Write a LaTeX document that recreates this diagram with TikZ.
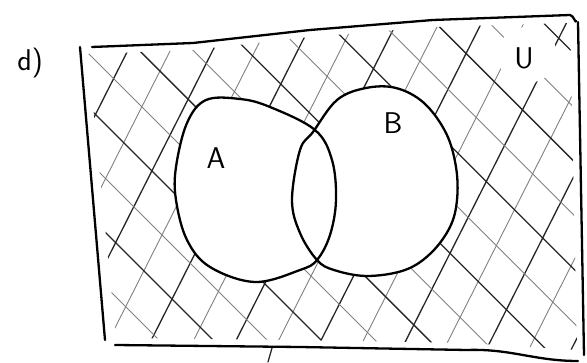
\documentclass[tikz,border=0pt]{standalone}
\begin{document}
\begin{tikzpicture}[x=1pt,y=-1pt,
  outline/.style={line width=2.3pt,line join=round,line cap=round},
  hatchdark/.style={line width=1.3pt,black!85,line cap=round},
  hatchlight/.style={line width=0.9pt,black!50,line cap=round},
  lbl/.style={font=\sffamily\fontsize{30}{30}\selectfont,inner sep=0pt}]
\useasboundingbox (0,0) rectangle (587,363);
% hatching, clipped to the universe
\begin{scope}
  \clip (88,54) -- (193,50) -- (310,37) -- (433,27) -- (570,23) -- (577,350) -- (467,343) -- (300,340) -- (116,338) -- cycle;
  \foreach \t in {-320,-244,...,340}
    \draw[hatchdark] ({330+\t*0.88-400*0.45},{190+\t*0.47+400*0.89}) -- ({330+\t*0.88+400*0.45},{190+\t*0.47-400*0.89});
  \foreach \t in {-282,-206,...,340}
    \draw[hatchlight] ({330+\t*0.88-400*0.45},{190+\t*0.47+400*0.89}) -- ({330+\t*0.88+400*0.45},{190+\t*0.47-400*0.89});
  \foreach \t in {-340,-264,...,340}
    \draw[hatchdark] ({330+\t*0.71-400*0.71},{190-\t*0.71-400*0.71}) -- ({330+\t*0.71+400*0.71},{190-\t*0.71+400*0.71});
  \foreach \t in {-302,-226,...,340}
    \draw[hatchlight] ({330+\t*0.71-400*0.71},{190-\t*0.71-400*0.71}) -- ({330+\t*0.71+400*0.71},{190-\t*0.71+400*0.71});
  \fill[white] (527,55) ellipse (30 and 28);
\end{scope}
% sets
\fill[white] plot[smooth cycle,tension=0.6] coordinates {(206,100) (240,99) (270,107) (315,130) (332,160) (336,200) (330,235) (317,260) (300,270) (255,282) (210,267) (187,240) (176,200) (176,167) (187,123)};
\fill[white] plot[smooth cycle,tension=0.6] coordinates {(292,200) (300,150) (313,132) (337,100) (366,88) (396,88) (424,103) (446,133) (456,167) (457,200) (450,227) (431,253) (405,270) (367,276) (334,270) (317,260) (300,233)};
\draw[outline] plot[smooth cycle,tension=0.6] coordinates {(206,100) (240,99) (270,107) (315,130) (332,160) (336,200) (330,235) (317,260) (300,270) (255,282) (210,267) (187,240) (176,200) (176,167) (187,123)};
\draw[outline] plot[smooth cycle,tension=0.6] coordinates {(292,200) (300,150) (313,132) (337,100) (366,88) (396,88) (424,103) (446,133) (456,167) (457,200) (450,227) (431,253) (405,270) (367,276) (334,270) (317,260) (300,233)};
% universe
\draw[outline] (80,47) -- (105,340);
\draw[outline] (92,47) -- (193,43) -- (310,30) -- (433,20) -- (570,15) to[out=0,in=-90] (576,21);
\draw[outline] (578,22) -- (584,355);
\draw[outline] (115,345) -- (300,347) -- (467,350) to[out=2,in=180] (578,361);
\draw[hatchdark] (272,348) -- (268,362);
% labels
\node[lbl] (d) at (30,63) {d)};
\node[lbl] (A) at (216,158) {A};
\node[lbl] (B) at (393,123) {B};
\node[lbl] (U) at (524,58) {U};
\end{tikzpicture}
\end{document}
